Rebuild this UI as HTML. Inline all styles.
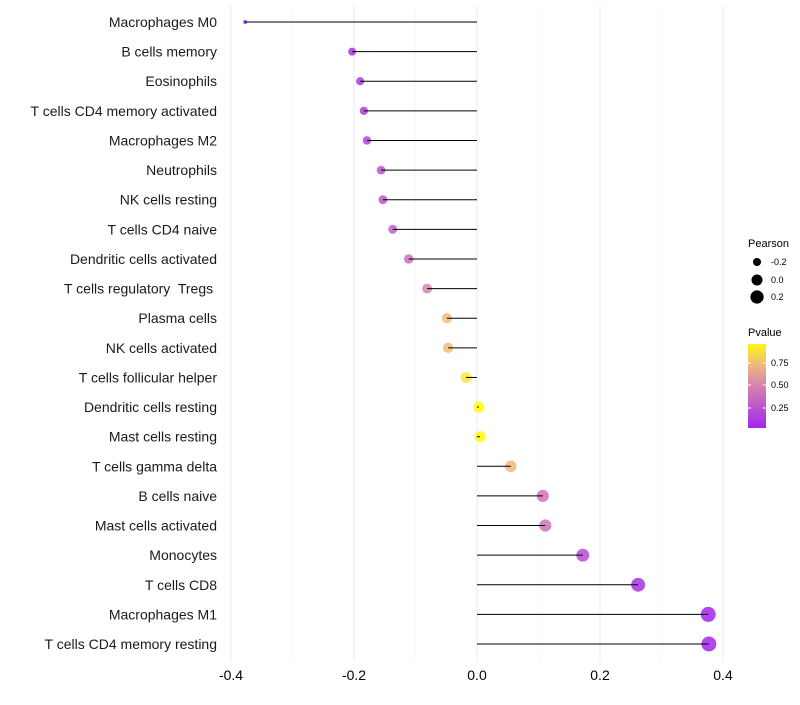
<!DOCTYPE html>
<html><head><meta charset="utf-8"><style>
body{margin:0;background:#fff;font-family:"Liberation Sans",sans-serif}
text{white-space:pre}
</style></head><body>
<svg id="chart" width="800" height="700" xmlns="http://www.w3.org/2000/svg"></svg>
<script>
const categories=["Macrophages M0","B cells memory","Eosinophils","T cells CD4 memory activated","Macrophages M2","Neutrophils","NK cells resting","T cells CD4 naive","Dendritic cells activated","T cells regulatory  Tregs ","Plasma cells","NK cells activated","T cells follicular helper","Dendritic cells resting","Mast cells resting","T cells gamma delta","B cells naive","Mast cells activated","Monocytes","T cells CD8","Macrophages M1","T cells CD4 memory resting"];
const pearson=[-0.377,-0.203,-0.190,-0.184,-0.179,-0.156,-0.153,-0.137,-0.111,-0.081,-0.049,-0.047,-0.018,0.003,0.005,0.055,0.107,0.111,0.172,0.262,0.376,0.377];
const pvalue=[0.02,0.08,0.12,0.14,0.16,0.25,0.27,0.32,0.4,0.5,0.75,0.75,0.9,0.99,0.98,0.72,0.42,0.42,0.22,0.08,0.03,0.03];
const xTicks=[-0.4,-0.2,0,0.2,0.4];
const xMinor=[-0.3,-0.1,0.1,0.3];
const NS="http://www.w3.org/2000/svg";
const svg=document.getElementById('chart');
const x=v=>477+v*615;
const y=i=>22+i*29.62;
const r=v=>Math.sqrt(Math.max(1,30+69*v));
function col(p){
  const stops=[[0,[160,32,240]],[0.5,[214,132,176]],[0.75,[240,190,120]],[1,[255,255,0]]];
  p=Math.max(0,Math.min(1,p));
  for(let k=1;k<stops.length;k++){if(p<=stops[k][0]){const [a,ca]=stops[k-1],[b,cb]=stops[k];const t=(p-a)/(b-a);return 'rgb('+ca.map((c,j)=>Math.round(c+(cb[j]-c)*t)).join(',')+')';}}
}
function el(t,attrs,txt){const e=document.createElementNS(NS,t);for(const k in attrs)e.setAttribute(k,attrs[k]);if(txt!==undefined)e.textContent=txt;svg.appendChild(e);return e;}
xMinor.forEach(v=>{const g=el('line',{x1:x(v),x2:x(v),y1:5,y2:662,stroke:'#f3f3f3','stroke-width':0.6});

});
xTicks.forEach(v=>{const g=el('line',{x1:x(v),x2:x(v),y1:5,y2:662,stroke:'#ebebeb','stroke-width':1});


const t=el('text',{x:x(v),y:680,'text-anchor':'middle','font-size':14,fill:'#000'},v===0?'0.0':v.toFixed(1));

});
categories.forEach((c,i)=>{
  const t=el('text',{x:217,y:y(i)+5,'text-anchor':'end','font-size':14,fill:'#1a1a1a'},c);
  
  
  const d=el('circle',{cx:x(pearson[i]),cy:y(i),r:r(pearson[i]),fill:col(pvalue[i]),'fill-opacity':0.85});
  
  
  const l=el('line',{x1:x(0),x2:x(pearson[i]),y1:y(i),y2:y(i),stroke:'#000','stroke-width':1});
  
  
});
// legend
const lt=el('text',{x:748,y:247,'font-size':11},'Pearson');

[[-0.2,262],[0,280],[0.2,297]].forEach(([v,yy])=>{
  const c=el('circle',{cx:757,cy:yy,r:r(v),fill:'#000'});
  
  const t=el('text',{x:771,y:yy+3,'font-size':9},v===0?'0.0':v.toFixed(1));
  
});
const pt=el('text',{x:748,y:336,'font-size':11},'Pvalue');

const defs=el('defs',{});
const lg=document.createElementNS(NS,'linearGradient');lg.setAttribute('id','g');lg.setAttribute('x1',0);lg.setAttribute('y1',1);lg.setAttribute('x2',0);lg.setAttribute('y2',0);defs.appendChild(lg);
for(let k=0;k<=10;k++){const p=0.03+k*0.093;const s=document.createElementNS(NS,'stop');s.setAttribute('offset',k/10);s.setAttribute('stop-color',col(p));lg.appendChild(s);}
const bar=el('rect',{x:748,y:344,width:18,height:84,fill:'url(#g)'});

[[0.75,363],[0.5,385],[0.25,408]].forEach(([v,yy])=>{
  el('line',{x1:748,x2:751,y1:yy,y2:yy,stroke:'#fff'});el('line',{x1:763,x2:766,y1:yy,y2:yy,stroke:'#fff'});
  const t=el('text',{x:771,y:yy+3,'font-size':9},v.toFixed(2));
  
});
</script>
</body></html>
